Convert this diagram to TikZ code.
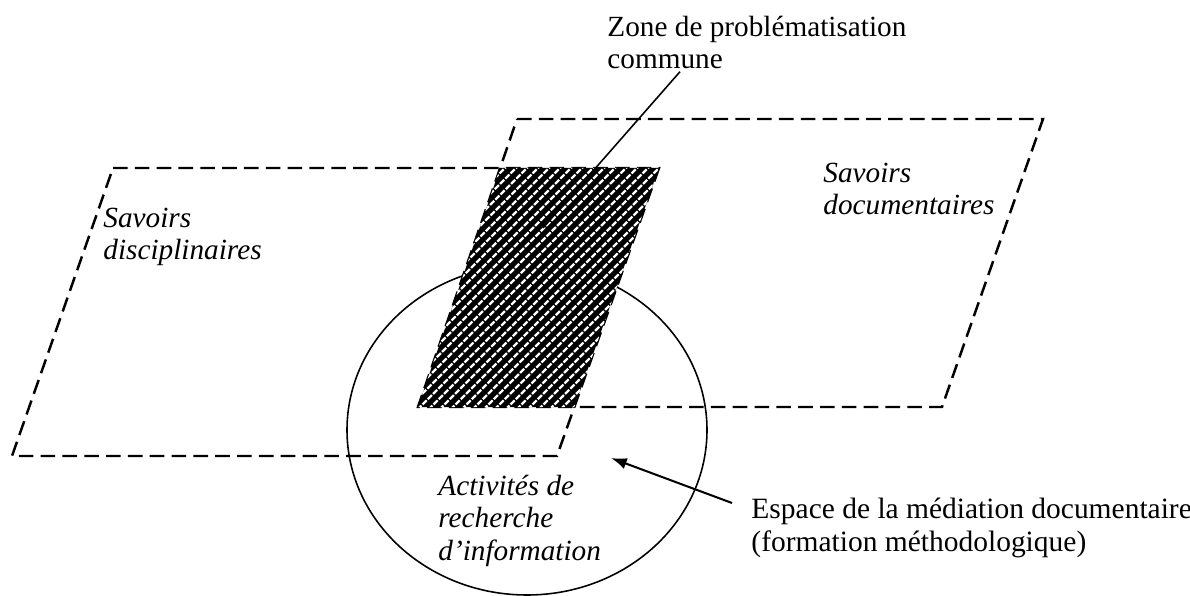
\documentclass[tikz,border=0pt]{standalone}
\usepackage{fontspec}
\setmainfont{Liberation Serif}
\usetikzlibrary{arrows.meta,calc}

\begin{document}
\begin{tikzpicture}[x=0.4444pt,y=-0.4444pt,
	savoir/.style={line width=1.1pt,dash pattern=on 6.5pt off 3.2pt},
	lbl/.style={inner sep=0pt,anchor=north west,align=left,font=\fontsize{13}{14.3}\selectfont},
	lbli/.style={lbl,font=\fontsize{13}{14.3}\selectfont\itshape}]
	\useasboundingbox (0,0) rectangle (1190,596);
	\coordinate (D1) at (113,168);
	\coordinate (D2) at (659,168);
	\coordinate (D3) at (557,456);
	\coordinate (D4) at (12,456);
	\coordinate (C1) at (517,119);
	\coordinate (C2) at (1043,119);
	\coordinate (C3) at (942,407);
	\coordinate (C4) at (418,407);
	\draw [line width=0.7pt] (527,430) ellipse [x radius=180,y radius=165];
	\draw [savoir] (D1) -- (D2) -- (D3) -- (D4) -- cycle;
	\draw [savoir] (C1) -- (C2) -- (C3) -- (C4) -- cycle;
	\begin{scope}
		\clip (D1) -- (D2) -- (D3) -- (D4) -- cycle;
		\clip (C1) -- (C2) -- (C3) -- (C4) -- cycle;
		\fill [black] (400,150) rectangle (680,420);
		\foreach \k in {0,...,48}
			\draw [white,line width=0.95pt,dash pattern=on 2.6pt off 0.7pt] (170+11*\k,415) -- ++(270,-270);
	\end{scope}
	\node [lbl] (zone) at (607,16) {Zone de problématisation\\commune};
	\node [lbli] (savdoc) at (823,163) {Savoirs\\documentaires};
	\node [lbli] (savdis) at (103,208) {Savoirs\\disciplinaires};
	\node [lbli] (activ) at (438,475) {Activités de\\recherche\\d’information};
	\node [lbl,font=\fontsize{13.1}{14.3}\selectfont] (espace) at (751,498) {Espace de la médiation documentaire\\(formation méthodologique)};
	\coordinate (zonept) at (543,228);
	\coordinate (mediapt) at (611,458);
	\draw [line width=0.7pt] ($(zone.south west)+(73,2)$) -- (zonept);
	\draw [line width=0.9pt,-{Latex[length=7pt,width=5pt]}] ($(espace.north west)+(-19,5)$) -- (mediapt);
\end{tikzpicture}
\end{document}
